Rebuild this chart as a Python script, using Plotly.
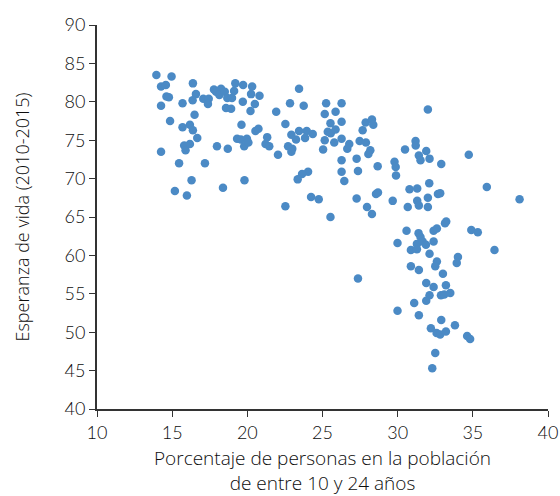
import plotly.graph_objects as go

# share of population aged 10-24 (%) vs life expectancy 2010-2015
youth_share = [
    13.95, 14.96, 14.26, 14.58, 16.38, 14.62, 14.78, 16.58, 16.36, 14.26,
    15.69, 17.07, 17.43, 17.38, 17.78, 17.92, 18.25, 18.14, 18.50, 18.67,
    18.98, 19.12, 19.20, 19.72, 19.70, 18.58, 18.92, 16.49, 14.86, 15.69,
    16.18, 16.38, 16.67, 19.61, 19.32, 19.57, 19.97, 19.79, 15.80, 15.89,
    16.18, 14.26, 17.98, 18.70, 15.46, 17.18, 16.29, 19.81, 15.18, 15.98,
    18.38,
    20.32, 20.25, 20.81, 20.50, 20.21, 23.44, 22.84, 23.75, 21.92, 25.24,
    26.27, 25.15, 25.87, 22.53, 25.53, 26.27, 20.54, 20.74, 20.07, 21.32,
    21.21, 21.46, 22.93, 23.24, 23.44, 23.95, 23.84, 24.35, 22.71, 22.99,
    22.93, 22.04, 25.35, 25.55, 25.87, 25.15, 25.78, 26.27, 25.04, 26.78,
    26.65, 27.87, 28.29, 28.38, 27.67, 27.47, 27.89, 28.18, 28.05, 28.67,
    29.79, 29.87, 29.89, 27.27, 27.36, 26.27, 26.27, 26.45, 24.04, 23.64,
    23.35, 24.24, 24.75, 22.53, 27.27, 27.96, 28.56, 28.69, 29.67,
    28.29, 25.53, 29.99, 27.36, 29.99,
    32.01, 31.19, 31.20, 30.49, 31.90, 31.41, 31.52, 32.12, 32.90, 34.73,
    30.79, 31.30, 32.10, 35.93, 38.11, 31.30, 31.41, 32.01, 32.68, 32.83,
    30.67, 32.01,
    33.23, 33.15, 30.59, 31.39, 31.52, 32.39, 32.61, 32.39, 31.28, 31.66,
    31.88, 30.88, 31.28, 32.12, 34.90, 35.33, 36.44, 34.01, 33.93, 32.61,
    32.50, 30.88, 31.41, 33.01, 31.90, 32.39, 33.21, 32.88, 33.10, 33.50,
    32.12, 31.90, 31.10, 31.41, 32.90, 32.21, 33.81, 32.59, 32.83, 33.21,
    34.62, 34.82, 32.50, 32.30,
]
life_expectancy = [
    83.5, 83.3, 82.0, 82.2, 82.4, 80.7, 80.6, 81.0, 80.2, 79.5,
    79.8, 80.4, 80.4, 79.7, 81.6, 81.3, 81.7, 80.9, 81.3, 80.5,
    80.5, 81.4, 82.4, 82.2, 80.0, 79.2, 79.1, 78.3, 77.5, 76.7,
    77.0, 76.3, 75.3, 77.0, 75.2, 75.1, 75.2, 74.2, 74.3, 73.7,
    74.5, 73.5, 74.2, 73.9, 72.0, 72.0, 69.8, 69.8, 68.4, 67.8,
    68.8,
    82.0, 81.0, 80.8, 79.7, 78.8, 81.7, 79.8, 79.5, 78.7, 79.8,
    79.8, 78.4, 78.7, 77.1, 77.2, 77.4, 76.2, 76.5, 74.7, 75.4,
    74.5, 74.2, 75.7, 75.1, 76.2, 76.2, 75.3, 75.8, 74.2, 73.9,
    73.5, 73.1, 76.1, 75.9, 76.4, 75.0, 74.7, 75.2, 73.8, 74.5,
    73.9, 77.3, 77.7, 77.0, 76.3, 74.9, 74.7, 73.7, 73.2, 71.6,
    72.2, 71.5, 70.4, 72.6, 71.0, 72.4, 70.9, 69.7, 70.9, 70.6,
    69.9, 67.6, 67.3, 66.4, 67.4, 66.3, 68.0, 68.2, 67.1,
    65.4, 65.0, 61.6, 57.0, 52.8,
    79.0, 74.9, 74.3, 73.8, 73.6, 73.0, 72.4, 72.6, 71.9, 73.1,
    68.6, 68.7, 69.4, 68.9, 67.3, 67.1, 66.5, 67.5, 68.0, 68.1,
    66.3, 66.3,
    64.4, 64.2, 63.2, 62.9, 62.4, 63.2, 63.5, 61.8, 61.5, 61.8,
    61.4, 60.7, 60.8, 60.2, 63.3, 63.0, 60.7, 59.8, 59.0, 59.2,
    58.6, 58.6, 58.1, 57.6, 56.4, 55.9, 56.1, 54.8, 54.9, 55.1,
    54.8, 54.1, 53.8, 52.2, 51.6, 50.5, 50.9, 49.9, 49.7, 50.1,
    49.5, 49.1, 47.3, 45.3,
]

x_ticks = [10, 15, 20, 25, 30, 35, 40]
y_ticks = [40, 45, 50, 55, 60, 65, 70, 75, 80, 85, 90]

x_title = "Porcentaje de personas en la población<br>de entre 10 y 24 años"
y_title = "Esperanza de vida (2010-2015)"

tick_family = "Lato, 'Open Sans', sans-serif"
title_family = "'Open Sans', Lato, sans-serif"
text_color = "#0d0d0d"
axis_color = "#333333"

fig = go.Figure(go.Scatter(
    x=youth_share,
    y=life_expectancy,
    mode="markers",
    marker=dict(size=8.5, color="#4b8ac5", line=dict(width=0)),
    hoverinfo="x+y",
))

axis_common = dict(
    showline=True,
    linecolor=axis_color,
    linewidth=1.8,
    ticks="outside",
    ticklen=6,
    tickwidth=1.3,
    tickcolor=axis_color,
    showgrid=False,
    zeroline=False,
    automargin=False,
    tickfont=dict(size=18, color=text_color, family=tick_family, weight=300),
)
title_font = dict(size=19, color=text_color, family=title_family, weight=300)

fig.update_layout(
    width=560,
    height=496,
    paper_bgcolor="white",
    plot_bgcolor="white",
    showlegend=False,
    margin=dict(l=97, r=12, t=25, b=87),
    font=dict(family=tick_family, color=text_color, weight=300),
    xaxis=dict(
        range=[10, 40],
        tickvals=x_ticks,
        title=dict(text=x_title, font=title_font, standoff=19),
        **axis_common,
    ),
    yaxis=dict(
        range=[40, 90],
        tickvals=y_ticks,
        title=dict(text=y_title, font=dict(title_font, size=18), standoff=30),
        **axis_common,
    ),
)

# the page's default body margin would shift the whole chart by 8px
fig.write_html(
    "out.html",
    config={"displayModeBar": False},
    post_script="document.body.style.margin = '0';",
)
